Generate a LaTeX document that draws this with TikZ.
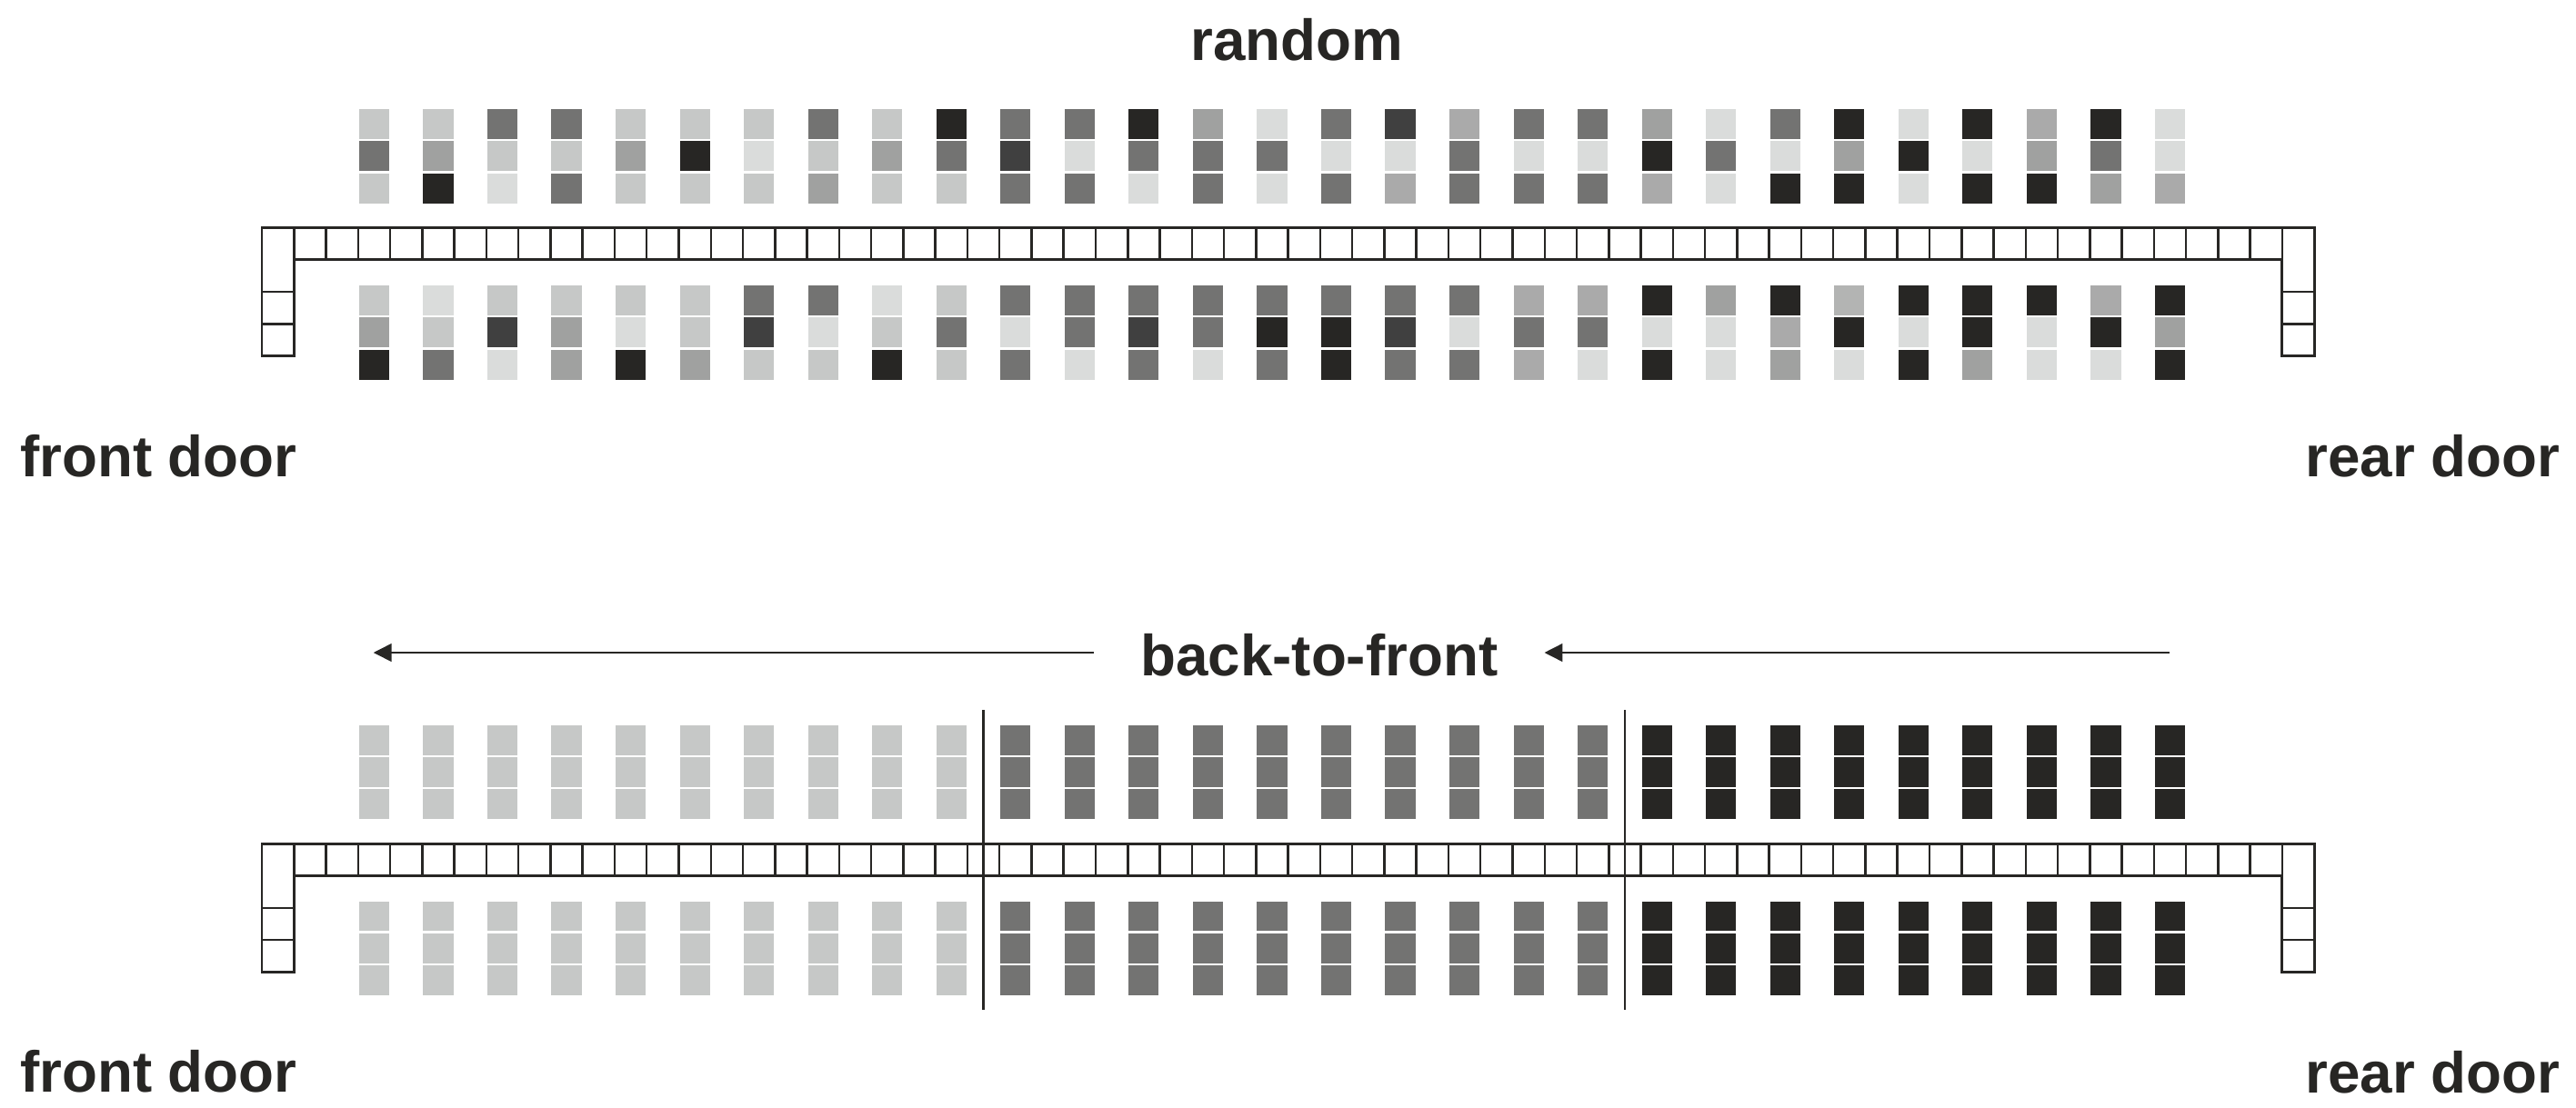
\documentclass[tikz,border=0pt]{standalone}
\usepackage{fontspec}
\setmainfont{Liberation Sans}
\usetikzlibrary{arrows.meta, positioning}

\definecolor{ink}{RGB}{39,38,36}
\definecolor{gA}{RGB}{218,220,219}
\definecolor{gB}{RGB}{198,200,199}
\definecolor{gL}{RGB}{179,180,179}
\definecolor{gK}{RGB}{170,170,170}
\definecolor{gC}{RGB}{160,161,160}
\definecolor{gD}{RGB}{115,115,114}
\definecolor{gE}{RGB}{64,64,64}
\definecolor{gF}{RGB}{39,38,36}

\begin{document}
\begin{tikzpicture}[x=0.5cm, y=0.5cm,
  cabin/.style={draw=ink, line width=1.2pt},
  cell/.style={draw=ink, line width=1pt},
  label/.style={font=\fontsize{25.7}{30}\selectfont\bfseries, text=ink, inner sep=0pt},
  divider/.style={draw=ink, line width=0.9pt},
  flow/.style={draw=ink, line width=0.6pt, -{Triangle[length=8pt, width=8pt]}}
]
  \useasboundingbox (-8.166,7.108) rectangle (72.16,-27.45);

  % Aisle and doors, both cabins
  \foreach \oy in {0,-19.21} {
    \begin{scope}[shift={(0,\oy)}]
      \foreach \k in {1,...,63}
        \draw[cell] (\k,0) -- (\k,-1);
      \draw[cell] (0,-2) -- (1,-2) (0,-3) -- (1,-3);
      \draw[cell] (63,-2) -- (64,-2) (63,-3) -- (64,-3);
      \draw[cabin] (1,-1) -- (1,-4) -- (0,-4) -- (0,0) -- (64,0) -- (64,-4) -- (63,-4) -- (63,-1) -- cycle;
      \node[label, anchor=base west] (front\oy) at (-7.55,-7.76) {front door};
      \node[label, anchor=base east] (rear\oy) at (71.67,-7.77) {rear door};
    \end{scope}
  }

  % Random boarding
  \node[label, anchor=base] (random) at (32.28,5.217) {random};
  \foreach \i/\pa/\pb/\pc/\pd/\pe/\pf in {
      0/B/D/B/B/C/F, 1/B/C/F/A/B/D, 2/D/B/A/B/E/A, 3/D/B/D/B/C/C,
      4/B/C/B/B/A/F, 5/B/F/B/B/B/C, 6/B/A/B/D/E/B, 7/D/B/C/D/A/B,
      8/B/C/B/A/B/F, 9/F/D/B/B/D/B, 10/D/E/D/D/A/D, 11/D/A/D/D/D/A,
      12/F/D/A/D/E/D, 13/C/D/D/D/D/A, 14/A/D/A/D/F/D, 15/D/A/D/D/F/F,
      16/E/A/K/D/E/D, 17/K/D/D/D/A/D, 18/D/A/D/K/D/K, 19/D/A/D/K/D/A,
      20/C/F/K/F/A/F, 21/A/D/A/C/A/A, 22/D/A/F/F/K/C, 23/F/C/F/L/F/A,
      24/A/F/A/F/A/F, 25/F/A/F/F/F/C, 26/K/C/F/F/A/A, 27/F/D/C/K/F/A,
      28/A/A/K/F/C/F} {
    \fill[g\pa] (3.03+2*\i,2.77) rectangle ++(0.94,0.93);
    \fill[g\pb] (3.03+2*\i,1.77) rectangle ++(0.94,0.93);
    \fill[g\pc] (3.03+2*\i,0.77) rectangle ++(0.94,0.93);
    \fill[g\pd] (3.03+2*\i,-2.73) rectangle ++(0.94,0.93);
    \fill[g\pe] (3.03+2*\i,-3.73) rectangle ++(0.94,0.93);
    \fill[g\pf] (3.03+2*\i,-4.73) rectangle ++(0.94,0.93);
  }

  % Back-to-front boarding
  \begin{scope}[shift={(0,-19.21)}]
    \node[label, anchor=base] (btf) at (32.97,5.25) {back-to-front};
    \coordinate (tail) at (59.48,5.96);
    \coordinate (head) at (3.48,5.96);
    \draw[flow, shorten >=0.72cm] (tail) -- (btf.east |- tail);
    \draw[flow, shorten <=0.72cm] (btf.west |- tail) -- (head);

    \foreach \from/\to/\col in {0/9/gB, 10/19/gD, 20/28/gF}
      \foreach \i in {\from,...,\to}
        \foreach \y in {2.77,1.77,0.77,-2.73,-3.73,-4.73}
          \fill[\col] (3.03+2*\i,\y) rectangle ++(0.94,0.93);

    \draw[divider] (22.5,4.16) -- (22.5,-5.19);
    \draw[divider] (42.5,4.16) -- (42.5,-5.19);
  \end{scope}
\end{tikzpicture}
\end{document}
